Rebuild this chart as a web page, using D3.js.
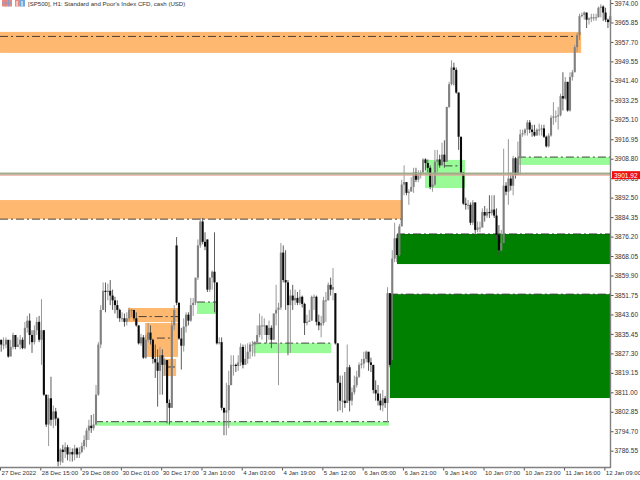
<!DOCTYPE html>
<html><head><meta charset="utf-8">
<script src="https://cdn.jsdelivr.net/npm/d3@7/dist/d3.min.js"></script>
<style>html,body{margin:0;padding:0;background:#fff;overflow:hidden}svg{display:block}text{font-family:"Liberation Sans",Arial,sans-serif}</style>
</head><body><svg id="c" width="640" height="480"></svg>
<script>
const barClose=[3831,3831,3833,3826,3830,3835,3830,3831,3833,3829.5,3838,3841,3835,3832,3837,3840.5,3833,3837,3810,3797.5,
3808.5,3799.5,3803,3800,3782,3787,3786,3788,3785,3786,3785,3787.5,3785,3786,3788.5,3791,3795,3797,3796,3797.5,
3810,3831,3845.5,3853.5,3853,3853.5,3851.5,3849.5,3847.5,3845.5,3842,3842,3840.5,3842,3845.5,3845.5,3842,3839,3831.5,3834,
3825.5,3833,3836,3833,3825,3823.5,3820,3826.5,3822.5,3824.5,3806.5,3804.5,3839,3845.5,3848.5,3833.5,3830.5,3838.5,3843.5,3841,
3847.5,3848.5,3859,3872.5,3882.5,3874,3872,3854,3859,3861.5,3857,3831.5,3832,3804.5,3802.5,3803.5,3814,3822.5,3822.5,3822,
3823.5,3830,3822.5,3825,3828,3831,3831,3832,3835,3839,3839,3839,3835,3838,3833,3844,3845.5,3846.5,3869.5,3858,
3857,3847.5,3851.5,3849.5,3850.5,3848.5,3851,3848,3840,3840.5,3841,3851,3851,3840.5,3839,3840,3849.5,3849.5,3856,3854,
3855,3831.5,3815,3807.5,3807.5,3806.5,3821.5,3807.5,3811,3814,3817.5,3822.5,3823,3825,3828,3823.5,3822.5,3812,3810.5,3807.5,
3805.5,3808.5,3806.5,3852.5,3822.5,3867,3875.5,3868.5,3880.5,3898,3899,3894.5,3895,3897,3903,3900,3902,3903,3908.5,3907,
3905,3897,3898,3907.5,3908.5,3906,3910.5,3907.5,3930.5,3940,3947,3946,3936.5,3918,3903,3890,3889.5,3889.5,3882,3890.5,
3879,3880,3880,3886.5,3885,3886.5,3886,3887.5,3885,3877,3870.5,3873.5,3897.5,3895,3900.5,3897.5,3909,3902,3909,3919,
3919.5,3921,3924,3921,3920,3918.5,3921,3921,3921.5,3918,3914,3918.5,3926,3926.5,3926.5,3927,3935,3934,3941,3929,
3943,3945,3955.5,3960.5,3968.5,3969,3970,3967,3967.5,3968,3968,3968,3972,3972.5,3970,3967,3966,3968.5];
const barHigh=[3833,3834,3834,3831.5,3833,3836,3834.5,3834,3835,3834,3840.5,3843,3844,3837,3839,3842.5,3843,3850,3837,3810,
3810,3817.5,3805.5,3804.5,3800.5,3787.5,3789,3790,3789,3788,3787.5,3789,3788,3788,3790,3793,3796,3799.5,3801.5,3802,
3814,3832,3847.5,3857,3857,3856.5,3858,3854,3851,3849.5,3846,3844.5,3844,3844.5,3846.5,3846,3845,3844.5,3839,3835.5,
3835,3835,3840,3839,3833.5,3831,3829,3830,3829,3825.5,3824.5,3808,3841,3847.5,3876,3848.5,3838,3842,3844.5,3844.5,
3850.5,3850.5,3859,3875,3884,3884,3878,3875,3859,3862,3878,3857,3834,3834,3804.5,3815,3820,3826.5,3826.5,3823,
3826.5,3831.5,3831,3831,3831.5,3832,3832.5,3832.5,3839,3844,3843,3842,3839,3841,3839,3844,3856,3848.5,3873.5,3872.5,
3870.5,3858,3854,3856,3854,3853,3854,3851.5,3848.5,3843.5,3845.5,3851.5,3852,3851.5,3843.5,3843,3851,3853,3857,3859,
3863,3852.5,3831.5,3818,3818,3819.5,3831,3822.5,3813,3818,3820,3823.5,3825,3828,3828.5,3826.5,3825.5,3820,3816,3814,
3810.5,3812,3809.5,3855,3852.5,3870.5,3882,3877,3881.5,3900,3906,3899,3896,3901,3905,3905,3904,3904,3909,3909,
3908.5,3906,3902,3912.5,3912.5,3910.5,3915.5,3916.5,3930.5,3941,3950,3949,3947,3936.5,3918,3903,3892.5,3891.5,3890.5,3891.5,
3890.5,3882.5,3882.5,3888,3889,3888,3893.5,3893.5,3893.5,3888,3881,3879,3913,3899,3917,3903,3910,3909.5,3916,3921,
3921,3921.5,3925,3925,3923,3923,3921.5,3923.5,3923,3923,3918.5,3919.5,3927,3932.5,3929,3930.5,3936,3945,3943,3941,
3945,3946,3956.5,3961.5,3969.5,3970,3970.5,3970,3968,3969.5,3969.5,3969.5,3972.5,3973.5,3973,3972,3967.5,3970];
const barLow=[3828,3829,3829.5,3825.5,3826,3829,3829,3830,3829,3829,3829,3836,3831,3827.5,3831,3835,3832,3822.5,3809.5,3796.5,
3788.5,3797,3796,3797,3780,3780.5,3781.5,3783.5,3782.5,3782,3782,3782.5,3783.5,3783.5,3785.5,3787,3788,3791,3794,3795,
3797.5,3809.5,3829.5,3845.5,3844.5,3849.5,3847.5,3845.5,3844,3842,3840.5,3840.5,3838.5,3839,3841,3842.5,3841,3838.5,3831,3830.5,
3825,3825,3832,3831,3823,3817,3805,3810,3810,3818,3798,3797.5,3804.5,3837,3847.5,3833,3820.5,3828,3836,3839,
3840.5,3843,3847.5,3858,3871.5,3873,3870.5,3853,3853,3854,3844.5,3831,3831,3803.5,3793,3793,3796,3814,3818,3819.5,
3820,3822,3821,3823,3823,3825,3826,3826,3831,3834,3833,3835,3831.5,3833,3829.5,3833,3839,3814,3845.5,3857,
3845.5,3826.5,3827.5,3845.5,3847.5,3847.5,3847.5,3846.5,3835,3839,3840.5,3841,3845.5,3839,3837,3834,3839,3840.5,3849.5,3851.5,
3849.5,3831,3803,3803.5,3802.5,3804.5,3807.5,3803,3805.5,3810,3813,3817,3821,3821,3823.5,3820,3819.5,3810.5,3807.5,3805.5,
3803.5,3803,3804.5,3798.5,3821.5,3824.5,3865.5,3865.5,3868,3880.5,3893.5,3893.5,3889.5,3895.5,3894.5,3899,3899,3900.5,3903,3904,
3903,3896,3895,3897.5,3903,3905,3906,3905,3907.5,3930,3939.5,3939.5,3936,3912.5,3902,3889.5,3887.5,3887.5,3881,3881,
3875,3878,3878,3880,3882.5,3884,3884,3885,3884,3875,3868.5,3870,3876.5,3893.5,3889.5,3895.5,3893.5,3900.5,3902,3902,
3918,3918.5,3918.5,3919.5,3918,3918,3918.5,3918.5,3918.5,3917.5,3913.5,3913.5,3918,3923,3924,3921,3926.5,3929,3933.5,3928.5,
3928.5,3941.5,3945,3953.5,3958.5,3968,3967,3963.5,3965,3966,3966.5,3966.5,3968,3968,3966.5,3966,3963.5,3964];
const firstOpen=3833;
const gapOpenBars=[74,87,141,165];
const gapOpenPrices=[3872.5,3875,3852.5,3852];

const orangeZones=[[-0.5,244.7,3961.9,3953.1],[-0.5,169.5,3891.5,3883.5],[53.5,75,3846.3,3840.4],[60.7,74.6,3840,3825.8],[68.3,73.8,3825,3817.8]];
const paleGreenZones=[[39.6,163.6,3798.7,3797],[82.6,91.5,3848.8,3843.8],[106.3,139.2,3831.6,3827.4],[178.8,195.7,3908.3,3896.5],[218,257,3909.5,3906.2]];
const darkGreenZones=[[167,257,3877.3,3864.7],[164,257,3852.1,3808.6]];
const levelLines=[[-0.5,243.4,3960],[-0.5,169.5,3883.5],[58,74.6,3842.7],[65.7,71.2,3833.7],[70,73.3,3821.6],[39.6,163.6,3798.7],[82.6,91.5,3848.8],[106.3,139.2,3831.6],[187,194.5,3905.8],[218,257,3909.5],[167,257,3877.3],[164,257,3852.1]];

const priceTicks=[3974,3965.85,3957.7,3949.55,3941.4,3933.25,3925.1,3916.95,3908.8,3900.65,3892.5,3884.35,3876.2,3868.05,3859.9,3851.75,3843.6,3835.45,3827.3,3819.15,3811,3802.85,3794.7,3786.55];
const timeTickBars=[-0.5,16.5,33.5,50.5,67.5,84.5,101.5,118.5,135.5,152.5,169.5,186.5,203.5,220.5,237.5,254.5];
const timeTickLabels=["27 Dec 2022","28 Dec 15:00","29 Dec 08:00","30 Dec 01:00","30 Dec 17:00","3 Jan 10:00","4 Jan 03:00","4 Jan 19:00","5 Jan 12:00","6 Jan 05:00","6 Jan 21:00","9 Jan 14:00","10 Jan 07:00","10 Jan 23:00","11 Jan 16:00","12 Jan 09:00"];
const lastPrice=3901.92;
const titleText="[SP500], H1:  Standard and Poor's Index CFD, cash (USD)";

const svg=d3.select("#c");
const x=d3.scaleLinear().domain([0,257]).range([1.2,610.3]);
const y=d3.scaleLinear().domain([3974,3786.55]).range([3,450.7]);
const bars=barClose.map((c,i)=>{
  const g=gapOpenBars.indexOf(i);
  const o=g>=0?gapOpenPrices[g]:(i?barClose[i-1]:firstOpen);
  return {i,o,c,h:barHigh[i],l:barLow[i]};
});
function zones(data,fill){
  svg.append("g").selectAll("rect").data(data).join("rect")
   .attr("x",d=>Math.max(0,x(d[0]))).attr("width",d=>x(d[1])-Math.max(0,x(d[0])))
   .attr("y",d=>y(d[2])).attr("height",d=>y(d[3])-y(d[2])).attr("fill",fill);
}
zones(orangeZones,"#ffb870");
zones(paleGreenZones,"#98fb98");
zones(darkGreenZones,"#008000");
svg.append("g").selectAll("line").data(levelLines).join("line")
  .attr("x1",d=>Math.max(0,x(d[0]))).attr("x2",d=>x(d[1])).attr("y1",d=>y(d[2])).attr("y2",d=>y(d[2]))
  .attr("stroke","#333").attr("stroke-width",0.9).attr("stroke-dasharray","8,3,2,3");

const cg=svg.append("g");
cg.selectAll("line").data(bars).join("line")
  .attr("x1",d=>x(d.i)).attr("x2",d=>x(d.i)).attr("y1",d=>y(d.h)).attr("y2",d=>y(d.l))
  .attr("stroke",d=>d.c>=d.o?"#8c8c8c":"#4a4a4a").attr("stroke-width",0.9);
cg.selectAll("rect").data(bars).join("rect")
  .attr("x",d=>x(d.i)-1.05).attr("width",2.1)
  .attr("y",d=>y(Math.max(d.o,d.c))).attr("height",d=>Math.max(1,Math.abs(y(d.o)-y(d.c))))
  .attr("fill",d=>d.c>=d.o?"#808080":"#0a0a0a");

// current price lines
svg.append("rect").attr("x",0).attr("width",610).attr("y",y(lastPrice)-2.6).attr("height",2.2).attr("fill","#9fac8a");
svg.append("rect").attr("x",0).attr("width",610).attr("y",y(lastPrice)-0.4).attr("height",0.9).attr("fill","#e8a096");

// axes
const right=d3.axisRight(y).tickValues(priceTicks).tickSize(3).tickPadding(1).tickFormat(d3.format(".2f"));
const ra=svg.append("g").attr("transform","translate(610.5,0)").call(right);
const bottom=d3.axisBottom(x).tickValues(timeTickBars).tickSize(3).tickFormat((d,i)=>timeTickLabels[i]);
const ba=svg.append("g").attr("transform","translate(0,467.5)").call(bottom);
[ra,ba].forEach(a=>{
  a.selectAll(".domain").remove();
  a.selectAll("line").attr("stroke","#555");
  a.selectAll("text").attr("fill","#333").attr("font-size","6.5px");
});
ba.selectAll("text").attr("font-size","6.1px").attr("text-anchor","start").attr("dx","1").attr("y",3).attr("dy","0.71em");
svg.append("line").attr("x1",610.5).attr("x2",610.5).attr("y1",0).attr("y2",468).attr("stroke","#808080").attr("stroke-width",1.4);
svg.append("line").attr("x1",0).attr("x2",611).attr("y1",467.5).attr("y2",467.5).attr("stroke","#808080").attr("stroke-width",1.4);

// last price label
svg.append("rect").attr("x",612).attr("width",28).attr("y",y(lastPrice)-4).attr("height",8).attr("fill","#f01010");
svg.append("text").attr("x",614).attr("y",y(lastPrice)+2.4).attr("fill","#fff").attr("font-size","6.5px").text(d3.format(".2f")(lastPrice));

// title and icons
svg.append("text").attr("x",28).attr("y",6).attr("fill","#333").attr("font-size","6.1px").text(titleText);
const ic=svg.append("g");
ic.append("rect").attr("x",2).attr("y",0).attr("width",10).attr("height",6.5).attr("fill","#e88a80");
ic.append("path").attr("d","M2 3H12M5.5 0V6.5M8.5 0V6.5").attr("stroke","#7a9fd8").attr("stroke-width",0.8);
ic.append("rect").attr("x",15).attr("y",0).attr("width",5).attr("height",6.5).attr("fill","#e88a80");
ic.append("rect").attr("x",20).attr("y",0).attr("width",5).attr("height",6.5).attr("fill","#6fa8dc");
ic.append("path").attr("d","M17 1V6M22 1V6").attr("stroke","#fff").attr("stroke-width",1);
</script></body></html>
